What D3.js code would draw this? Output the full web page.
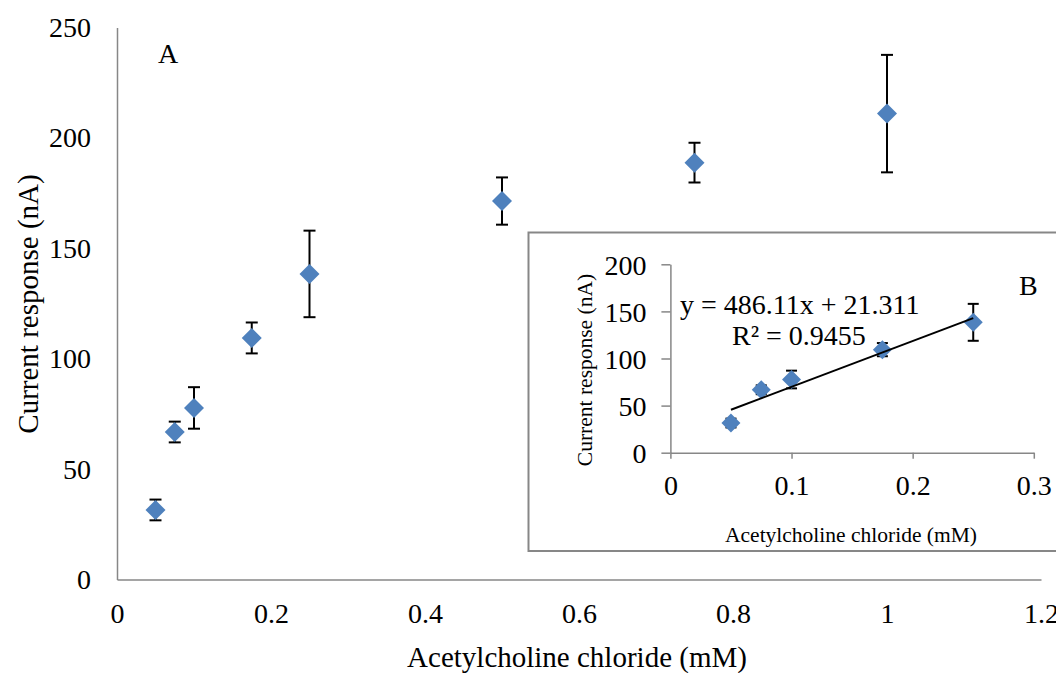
<!DOCTYPE html>
<html><head><meta charset="utf-8">
<script src="https://cdn.jsdelivr.net/npm/d3@7"></script>
<style>
html,body{margin:0;padding:0;background:#fff;}
svg{display:block;}
text{font-family:"Liberation Serif","Times New Roman",serif;fill:#000;}
</style></head>
<body>
<svg id="c" width="1056" height="673"></svg>
<script>
// ---- data ----
const concentration = [0.05, 0.075, 0.1, 0.175, 0.25, 0.5, 0.75, 1.0];
const response = [31.5, 66.8, 77.7, 109.4, 138.4, 171.4, 188.8, 211.0];
const errorValues = [4.7, 4.7, 9.4, 7.0, 19.6, 10.7, 9.0, 26.6];
const mainXTicks = [0, 0.2, 0.4, 0.6, 0.8, 1, 1.2];
const mainYTicks = [0, 50, 100, 150, 200, 250];
const insetXTicks = [0, 0.1, 0.2, 0.3];
const insetYTicks = [0, 50, 100, 150, 200];
const insetCount = 5; // first five points in the linear range
const fitSlope = 486.11, fitIntercept = 21.311;
const fitText = ["y = 486.11x + 21.311", "R² = 0.9455"];

const blue = "#4F81BD", axisGray = "#878787";
const svg = d3.select("#c");
const pts = concentration.map((x,i)=>({x, y:response[i], e:errorValues[i]}));

function diamond(g, data, xs, ys, r){
  g.selectAll("path.d").data(data).join("path")
    .attr("d", d=>{const cx=xs(d.x), cy=ys(d.y);
      return `M${cx},${cy-r}L${cx+r},${cy}L${cx},${cy+r}L${cx-r},${cy}Z`;})
    .attr("fill", blue);
}
function errorBars(g, data, xs, ys, cap){
  const eb = g.selectAll("g.eb").data(data).join("g");
  eb.append("line").attr("x1",d=>xs(d.x)).attr("x2",d=>xs(d.x))
    .attr("y1",d=>ys(d.y+d.e)).attr("y2",d=>ys(d.y-d.e));
  eb.append("line").attr("x1",d=>xs(d.x)-cap).attr("x2",d=>xs(d.x)+cap)
    .attr("y1",d=>ys(d.y+d.e)).attr("y2",d=>ys(d.y+d.e));
  eb.append("line").attr("x1",d=>xs(d.x)-cap).attr("x2",d=>xs(d.x)+cap)
    .attr("y1",d=>ys(d.y-d.e)).attr("y2",d=>ys(d.y-d.e));
  eb.selectAll("line").attr("stroke","#000").attr("stroke-width",2);
}

// ---- main chart ----
const x = d3.scaleLinear().domain([0,1.2]).range([117,1041]);
const y = d3.scaleLinear().domain([0,250]).range([579.5,27.5]);

const gx = svg.append("g").attr("transform","translate(0,579.5)")
  .call(d3.axisBottom(x).tickValues(mainXTicks).tickSize(0).tickSizeOuter(0).tickFormat(d3.format("")));
gx.select(".domain").attr("stroke",axisGray).attr("stroke-width",1.5);
gx.selectAll("text").attr("y",43).attr("dy",0).style("font-size","28px").style("font-family","Liberation Serif");

const gy = svg.append("g").attr("transform","translate(117,0)")
  .call(d3.axisLeft(y).tickValues(mainYTicks).tickSize(0).tickSizeOuter(0).tickPadding(26));
gy.select(".domain").attr("stroke",axisGray).attr("stroke-width",1.5);
gy.selectAll("text").attr("dy","0.32em").style("font-size","28px").style("font-family","Liberation Serif");

svg.append("text").attr("x",577).attr("y",667).attr("text-anchor","middle")
  .style("font-size","29px").text("Acetylcholine chloride (mM)");
svg.append("text").attr("transform","translate(38,304) rotate(-90)").attr("text-anchor","middle")
  .style("font-size","29px").text("Current response (nA)");
svg.append("text").attr("x",158).attr("y",63).style("font-size","28px").text("A");

const gm = svg.append("g");
errorBars(gm, pts, x, y, 6);
diamond(gm, pts, x, y, 10);

// ---- inset ----
svg.append("rect").attr("x",528.5).attr("y",232.5).attr("width",600).attr("height",318.5)
  .attr("fill","#fff").attr("stroke",axisGray).attr("stroke-width",2);

const ix = d3.scaleLinear().domain([0,0.3]).range([670.4,1033.8]);
const iy = d3.scaleLinear().domain([0,200]).range([452.7,264.3]);

const igx = svg.append("g").attr("transform","translate(0,452.7)")
  .call(d3.axisBottom(ix).tickValues(insetXTicks).tickSize(6).tickSizeOuter(0).tickFormat(d3.format("")));
igx.selectAll("line,.domain").attr("stroke",axisGray).attr("stroke-width",1.5);
igx.selectAll("text").attr("y",42).attr("dy",0).style("font-size","28px").style("font-family","Liberation Serif");

const igy = svg.append("g").attr("transform","translate(670.4,0)")
  .call(d3.axisLeft(iy).tickValues(insetYTicks).tickSize(9).tickSizeOuter(0).tickPadding(15));
igy.selectAll("line,.domain").attr("stroke",axisGray).attr("stroke-width",1.5);
igy.selectAll("text").attr("dy","0.36em").style("font-size","28px").style("font-family","Liberation Serif");

svg.append("text").attr("x",851).attr("y",542).attr("text-anchor","middle")
  .style("font-size","21.5px").text("Acetylcholine chloride (mM)");
svg.append("text").attr("transform","translate(592,370) rotate(-90)").attr("text-anchor","middle")
  .style("font-size","21.5px").text("Current response (nA)");
svg.append("text").attr("x",1019).attr("y",295).style("font-size","28px").text("B");

const insetPts = pts.slice(0, insetCount);
const gi = svg.append("g");
errorBars(gi, insetPts, ix, iy, 5.5);
diamond(gi, insetPts, ix, iy, 9.5);
const x0 = concentration[0], x1 = concentration[insetCount-1];
gi.append("line").attr("x1",ix(x0)).attr("y1",iy(fitSlope*x0+fitIntercept))
  .attr("x2",ix(x1)).attr("y2",iy(fitSlope*x1+fitIntercept))
  .attr("stroke","#000").attr("stroke-width",2);

svg.append("text").attr("x",680).attr("y",314).style("font-size","28px").text(fitText[0]);
svg.append("text").attr("x",732).attr("y",345).style("font-size","28px").text(fitText[1]);
</script>
</body></html>
